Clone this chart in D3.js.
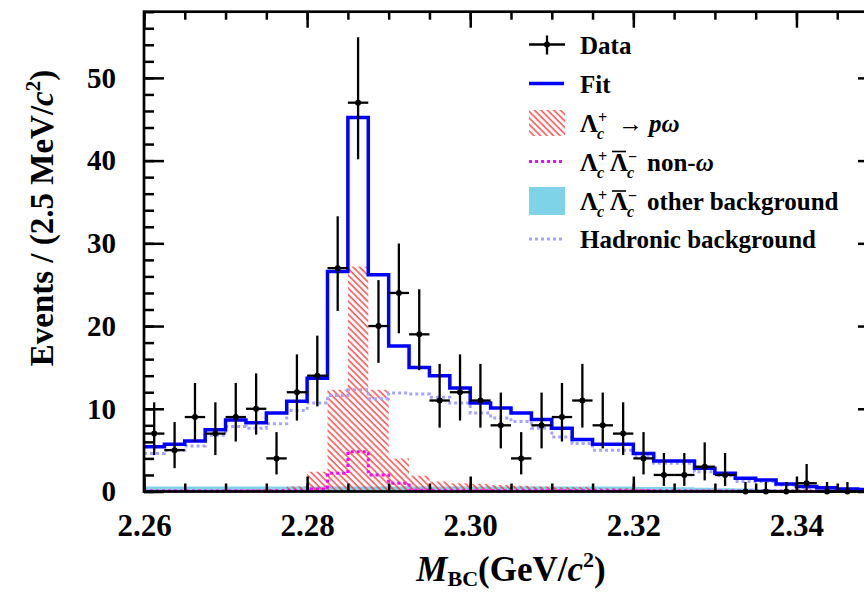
<!DOCTYPE html>
<html><head><meta charset="utf-8">
<script src="https://cdn.jsdelivr.net/npm/d3@7"></script>
<style>
body{margin:0;background:#fff}
svg{display:block}
text{font-family:"Liberation Serif","Times New Roman",serif;font-weight:bold;fill:#000}
</style>
</head><body>
<svg id="chart" width="864" height="593"></svg>
<script>
// ---------- data ----------
const xDomain = [2.26, 2.35];
const yDomain = [0, 58];
const binWidth = 0.0025;
const binLowEdges = d3.range(36).map(i => +(2.26 + i * binWidth).toFixed(5));

const dataCounts = [7,5,9,7,9,10,4,12,14,27,47,20,24,19,11,12,11,8,4,8,9,11,8,7,4,2,2,3,2,0,0,0,1,0,0,0];
const fitTotal = [5.4,5.7,6.1,7.45,8.65,8.3,9.5,10.9,13.7,26.6,45.2,26.2,17.6,15.0,14.0,12.5,10.7,10.1,9.5,8.7,7.65,6.3,5.7,5.7,4.6,3.7,3.7,2.8,2.2,1.6,1.4,0.9,0.6,0.45,0.3,0.25];
const hadronicBkg = [4.6,5.0,5.5,6.8,7.85,7.65,8.2,9.8,10.7,11.6,12.3,11.2,11.9,11.8,11.4,10.7,9.5,8.9,8.45,7.65,6.6,5.8,5.0,5.0,4.2,3.4,3.4,2.4,1.9,1.2,1.2,0.8,0.5,0.3,0.25,0.2];
const signalPOmega = [0.1,0.1,0.1,0.15,0.2,0.25,0.3,0.6,2.4,12.3,27.2,12.3,4.0,1.9,1.2,1.0,0.9,0.8,0.7,0.6,0.5,0.5,0.4,0.4,0.3,0.3,0.25,0.2,0.2,0.15,0.15,0.1,0.1,0.1,0.1,0.1];
const nonOmega = [0.05,0.05,0.05,0.05,0.05,0.05,0.05,0.1,0.3,2.2,4.8,2.0,1.0,0.15,0.1,0.1,0.1,0.1,0.1,0.1,0.1,0.1,0.1,0.1,0.1,0.05,0.05,0.05,0.05,0.05,0.05,0.05,0.05,0.05,0.05,0.05];
const otherBkg = [0.6,0.6,0.6,0.6,0.6,0.6,0.6,0.6,0.6,0.6,0.6,0.6,0.6,0.6,0.6,0.6,0.6,0.6,0.6,0.6,0.6,0.6,0.6,0.6,0.55,0.55,0.5,0.45,0.4,0.35,0.3,0.25,0.2,0.2,0.15,0.15];

const xTicksMajor = [2.26, 2.28, 2.30, 2.32, 2.34];
const yTicksMajor = [0, 10, 20, 30, 40, 50];
const xTicksMinor = d3.range(0, 19).map(i => +(2.26 + i * 0.005).toFixed(4));
const yTicksMinor = d3.range(0, 30).map(i => i * 2);

// ---------- layout ----------
const svg = d3.select("#chart");
const L = 144, R = 878, T = 11.7, B = 491.5;
const x = d3.scaleLinear().domain(xDomain).range([L, R]);
const y = d3.scaleLinear().domain(yDomain).range([B, T]);

const defs = svg.append("defs");
const pat = defs.append("pattern").attr("id", "hatch").attr("patternUnits", "userSpaceOnUse")
  .attr("width", 4.6).attr("height", 10).attr("patternTransform", "rotate(-45)");
pat.append("line").attr("x1", 1).attr("y1", 0).attr("x2", 1).attr("y2", 10)
  .attr("stroke", "#ff1e1e").attr("stroke-width", 1.2);

function stepPoints(vals) {
  const pts = vals.map((v, i) => [binLowEdges[i], v]);
  pts.push([binLowEdges[vals.length - 1] + binWidth, vals[vals.length - 1]]);
  return pts;
}
const stepLine = d3.line().x(d => x(d[0])).y(d => y(d[1])).curve(d3.curveStepAfter);
const stepArea = d3.area().x(d => x(d[0])).y0(y(0)).y1(d => y(d[1])).curve(d3.curveStepAfter);

const plot = svg.append("g");

// other background (filled)
plot.append("path").attr("d", stepArea(stepPoints(otherBkg))).attr("fill", "#7fd3e8");
// signal (hatched)
plot.append("path").attr("d", stepArea(stepPoints(signalPOmega))).attr("fill", "url(#hatch)");
// hadronic background
plot.append("path").attr("d", stepLine(stepPoints(hadronicBkg))).attr("fill", "none")
  .attr("stroke", "#a6a2ff").attr("stroke-width", 3).attr("stroke-dasharray", "3,3");
// non-omega
plot.append("path").attr("d", stepLine(stepPoints(nonOmega))).attr("fill", "none")
  .attr("stroke", "#ff00ff").attr("stroke-width", 3).attr("stroke-dasharray", "3,3");
// fit
plot.append("path").attr("d", stepLine(stepPoints(fitTotal))).attr("fill", "none")
  .attr("stroke", "#0000ff").attr("stroke-width", 3.5);

// data with Poisson errors
const errUp = n => n === 0 ? 1.15 : Math.sqrt(n + 0.75) + 1;
const errDn = n => n === 0 ? 0 : Math.sqrt(n - 0.25);
const dg = plot.append("g").selectAll("g").data(dataCounts).join("g");
dg.append("line")
  .attr("x1", (d, i) => x(binLowEdges[i])).attr("x2", (d, i) => x(binLowEdges[i] + binWidth))
  .attr("y1", d => y(d)).attr("y2", d => y(d)).attr("stroke", "#000").attr("stroke-width", 2.3);
dg.append("line")
  .attr("x1", (d, i) => x(binLowEdges[i] + binWidth / 2)).attr("x2", (d, i) => x(binLowEdges[i] + binWidth / 2))
  .attr("y1", d => y(d + errUp(d))).attr("y2", d => y(d - errDn(d))).attr("stroke", "#000").attr("stroke-width", 2.3);
dg.append("circle")
  .attr("cx", (d, i) => x(binLowEdges[i] + binWidth / 2)).attr("cy", d => y(d)).attr("r", 3).attr("fill", "#000");

// ---------- axes ----------
function styleAxis(g) {
  g.select(".domain").remove();
  g.selectAll(".tick line").attr("stroke", "#000").attr("stroke-width", 2.5);
}
svg.append("g").attr("transform", `translate(0,${B})`)
  .call(d3.axisBottom(x).tickValues(xTicksMinor).tickSize(-8).tickFormat(""))
  .call(styleAxis);
const xb = svg.append("g").attr("transform", `translate(0,${B})`)
  .call(d3.axisBottom(x).tickValues(xTicksMajor).tickSize(-15).tickPadding(22).tickFormat(d3.format(".2f")))
  .call(styleAxis);
xb.selectAll("text").style("font-size", "31px").attr("dy", "0.71em");

svg.append("g").attr("transform", `translate(0,${T})`)
  .call(d3.axisTop(x).tickValues(xTicksMinor).tickSize(-8).tickFormat(""))
  .call(styleAxis);
svg.append("g").attr("transform", `translate(0,${T})`)
  .call(d3.axisTop(x).tickValues(xTicksMajor).tickSize(-16).tickFormat(""))
  .call(styleAxis);

svg.append("g").attr("transform", `translate(${L},0)`)
  .call(d3.axisLeft(y).tickValues(yTicksMinor).tickSize(-10).tickFormat(""))
  .call(styleAxis);
const yl = svg.append("g").attr("transform", `translate(${L},0)`)
  .call(d3.axisLeft(y).tickValues(yTicksMajor).tickSize(-20).tickPadding(28).tickFormat(d3.format("d")))
  .call(styleAxis);
yl.selectAll("text").style("font-size", "29px");

svg.append("g").attr("transform", `translate(${R},0)`)
  .call(d3.axisRight(y).tickValues(yTicksMinor).tickSize(-10).tickFormat(""))
  .call(styleAxis);
svg.append("g").attr("transform", `translate(${R},0)`)
  .call(d3.axisRight(y).tickValues(yTicksMajor).tickSize(-20).tickFormat(""))
  .call(styleAxis);

// frame
svg.append("rect").attr("x", L).attr("y", T).attr("width", R - L).attr("height", B - T)
  .attr("fill", "none").attr("stroke", "#000").attr("stroke-width", 2.7);

// ---------- axis titles ----------
const yt = svg.append("text").attr("transform", "translate(53,218) rotate(-90)")
  .attr("text-anchor", "middle").style("font-size", "33px");
yt.append("tspan").text("Events / (2.5 MeV/");
yt.append("tspan").text("c").style("font-style", "italic");
yt.append("tspan").text("2").style("font-size", "21px").attr("dy", -13);
yt.append("tspan").text(")").attr("dy", 13);

const xt = svg.append("text").attr("x", 511).attr("y", 581).attr("text-anchor", "middle").style("font-size", "35px");
xt.append("tspan").text("M").style("font-style", "italic");
xt.append("tspan").text("BC").style("font-size", "22px").attr("dy", 5);
xt.append("tspan").text("(GeV/").attr("dy", -5);
xt.append("tspan").text("c").style("font-style", "italic");
xt.append("tspan").text("2").style("font-size", "22px").attr("dy", -14);
xt.append("tspan").text(")").attr("dy", 14);

// ---------- legend ----------
const lg = svg.append("g");
const lx0 = 529, lx1 = 565, tx = 580;
const rows = [44.5, 83.5, 123, 161.5, 201, 239];
const fs = "25px";
// Data
lg.append("line").attr("x1", lx0).attr("x2", lx1).attr("y1", rows[0]).attr("y2", rows[0]).attr("stroke", "#000").attr("stroke-width", 2.3);
lg.append("line").attr("x1", (lx0 + lx1) / 2).attr("x2", (lx0 + lx1) / 2).attr("y1", rows[0] - 9).attr("y2", rows[0] + 10).attr("stroke", "#000").attr("stroke-width", 2.3);
lg.append("circle").attr("cx", (lx0 + lx1) / 2).attr("cy", rows[0]).attr("r", 3).attr("fill", "#000");
lg.append("text").attr("x", tx).attr("y", rows[0] + 9).style("font-size", fs).text("Data");
// Fit
lg.append("line").attr("x1", lx0).attr("x2", lx1 - 1).attr("y1", rows[1]).attr("y2", rows[1]).attr("stroke", "#0000ff").attr("stroke-width", 3.5);
lg.append("text").attr("x", tx).attr("y", rows[1] + 9).style("font-size", fs).text("Fit");
// signal
lg.append("rect").attr("x", lx0).attr("y", rows[2] - 13).attr("width", lx1 - lx0).attr("height", 26).attr("fill", "url(#hatch)");
function lambdaC(g, xx, yy, bar, charge) {
  g.append("text").attr("x", xx).attr("y", yy).style("font-size", fs).text("Λ");
  if (bar) g.append("line").attr("x1", xx + 2).attr("x2", xx + 16).attr("y1", yy - 19).attr("y2", yy - 19).attr("stroke", "#000").attr("stroke-width", 1.6);
  g.append("text").attr("x", xx + 18).attr("y", yy - 9).style("font-size", "16px").text(charge);
  g.append("text").attr("x", xx + 17).attr("y", yy + 7).style("font-size", "16px").style("font-style", "italic").text("c");
}
lambdaC(lg, tx, rows[2] + 9, false, "+");
lg.append("text").attr("x", 618).attr("y", rows[2] + 9).style("font-size", fs).text("→");
lg.append("text").attr("x", 649).attr("y", rows[2] + 9).style("font-size", fs).style("font-style", "italic").text("pω");
// non-omega
lg.append("line").attr("x1", lx0).attr("x2", lx1 - 1).attr("y1", rows[3]).attr("y2", rows[3]).attr("stroke", "#ff00ff").attr("stroke-width", 3).attr("stroke-dasharray", "3,3");
lambdaC(lg, tx, rows[3] + 9, false, "+");
lambdaC(lg, tx + 30, rows[3] + 9, true, "−");
const t4 = lg.append("text").attr("x", 647).attr("y", rows[3] + 9).style("font-size", fs);
t4.append("tspan").text("non-");
t4.append("tspan").text("ω").style("font-style", "italic");
// other background
lg.append("rect").attr("x", lx0).attr("y", rows[4] - 14).attr("width", lx1 - lx0).attr("height", 28).attr("fill", "#7fd3e8");
lambdaC(lg, tx, rows[4] + 9, false, "+");
lambdaC(lg, tx + 30, rows[4] + 9, true, "−");
lg.append("text").attr("x", 647).attr("y", rows[4] + 9).style("font-size", fs).text("other background");
// hadronic
lg.append("line").attr("x1", lx0).attr("x2", lx1 - 1).attr("y1", rows[5]).attr("y2", rows[5]).attr("stroke", "#a6a2ff").attr("stroke-width", 3).attr("stroke-dasharray", "3,3");
lg.append("text").attr("x", tx).attr("y", rows[5] + 9).style("font-size", fs).text("Hadronic background");
</script>
</body></html>
